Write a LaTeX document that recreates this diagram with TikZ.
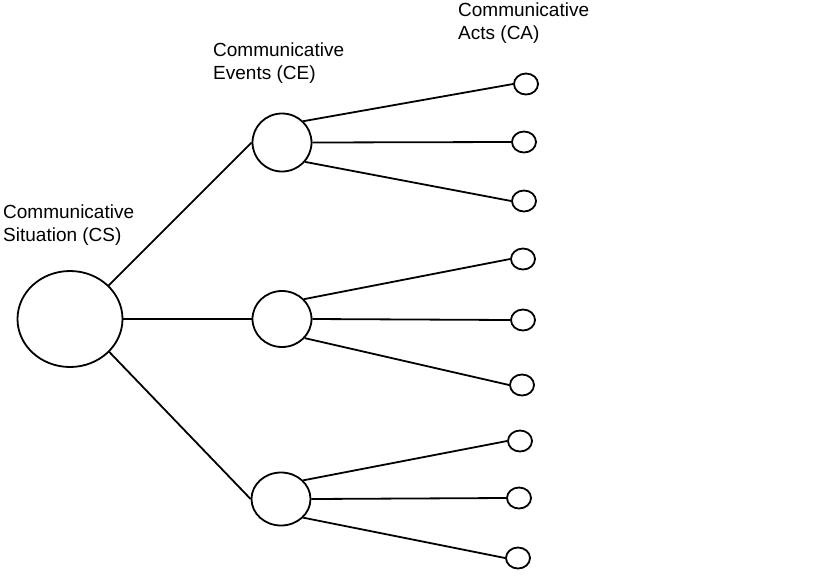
\documentclass[tikz,border=0pt]{standalone}
\usepackage{fontspec}
\setmainfont{Liberation Sans}
\usetikzlibrary{shapes.geometric}
\begin{document}
\begin{tikzpicture}[x=1pt,y=-1pt,
  bub/.style={draw=black,line width=1.8pt,ellipse,inner sep=0pt,fill=white},
  link/.style={draw=black,line width=1.8pt},
  lab/.style={anchor=north west,align=left,inner sep=0pt,font=\fontsize{19}{22.5}\selectfont}]
\useasboundingbox[fill=white] (0,0) rectangle (819,576);
% nodes
\node[bub,minimum width=105pt,minimum height=96pt] (cs) at (70,319) {};
\node[bub,minimum width=59pt,minimum height=58pt] (ce1) at (282,142.5) {};
\node[bub,minimum width=59pt,minimum height=56pt] (ce2) at (282,319) {};
\node[bub,minimum width=59pt,minimum height=53pt] (ce3) at (281,499) {};
\foreach \i/\x/\y in {1/526/84,2/524/142,3/524/201,4/523/259,5/523/320,6/522/385,7/520/441,8/519/498,9/518/558}
  \node[bub,minimum width=24pt,minimum height=21pt] (ca\i) at (\x,\y) {};
% labels
\node[lab] (lcs) at (3,205) {Communicative\\Situation (CS)};
\node[lab] (lce) at (213,43) {Communicative\\Events (CE)};
\node[lab] (lca) at (458,3) {Communicative\\Acts (CA)};
% connectors
\draw[link] (cs.41) -- (ce1.west);
\draw[link] (cs.east) -- (ce2.west);
\draw[link] (cs.-40) -- (ce3.west);
\draw[link] (ce1.45) -- (ca1.west);
\draw[link] (ce1.east) -- (ca2.west);
\draw[link] (ce1.-40) -- (ca3.west);
\draw[link] (ce2.42) -- (ca4.west);
\draw[link] (ce2.east) -- (ca5.west);
\draw[link] (ce2.-40) -- (ca6.west);
\draw[link] (ce3.40) -- (ca7.west);
\draw[link] (ce3.east) -- (ca8.west);
\draw[link] (ce3.-40) -- (ca9.west);
\end{tikzpicture}
\end{document}
